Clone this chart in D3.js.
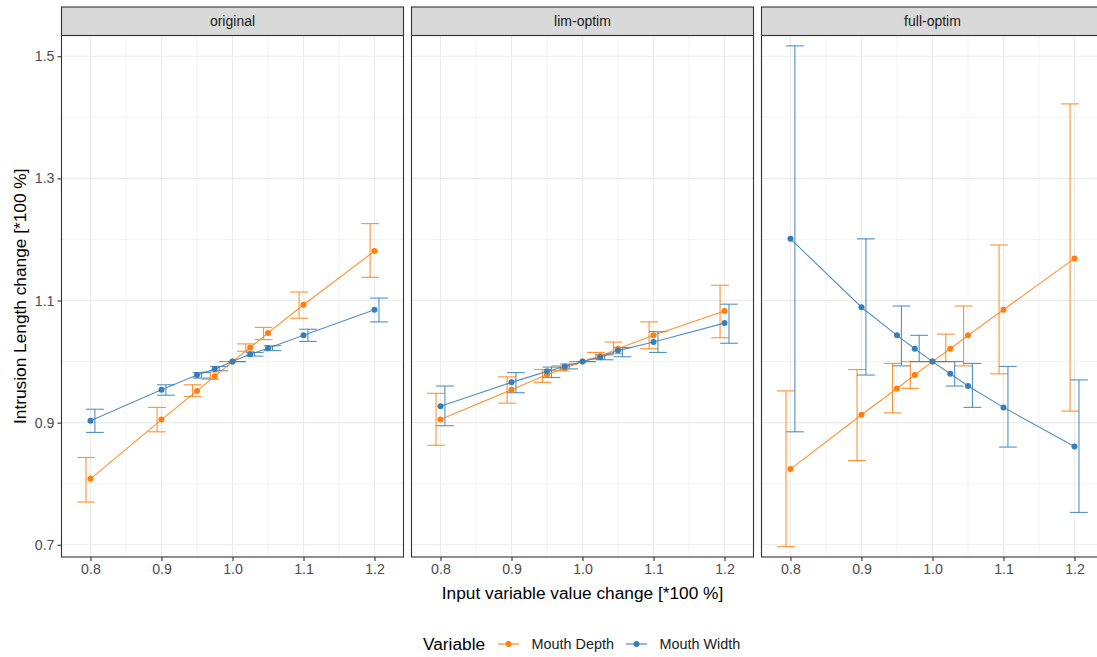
<!DOCTYPE html>
<html>
<head>
<meta charset="utf-8">
<script src="https://cdn.jsdelivr.net/npm/d3@7"></script>
<style>
  body { margin: 0; background: #fff; }
  svg text { font-family: "Liberation Sans", Arial, sans-serif; }
</style>
</head>
<body>
<svg id="chart" width="1097" height="657"></svg>
<script>
// ---- data ----
var xSteps = [0.8, 0.9, 0.95, 0.975, 1.0, 1.025, 1.05, 1.1, 1.2];
var panels = ["original", "lim-optim", "full-optim"];
var variables = ["Mouth Depth", "Mouth Width"];
var xTicks = [0.8, 0.9, 1.0, 1.1, 1.2];
var yTicks = [0.7, 0.9, 1.1, 1.3, 1.5];

// original
var origDepth   = [0.808, 0.905, 0.952, 0.976, 1.0, 1.023, 1.047, 1.093, 1.181];
var origDepthLo = [0.770, 0.885, 0.943, 0.971, 1.0, 1.017, 1.036, 1.071, 1.138];
var origDepthHi = [0.843, 0.925, 0.962, 0.983, 1.0, 1.029, 1.056, 1.114, 1.226];
var origWidth   = [0.903, 0.954, 0.978, 0.988, 1.0, 1.012, 1.022, 1.043, 1.085];
var origWidthLo = [0.884, 0.945, 0.973, 0.985, 1.0, 1.009, 1.018, 1.033, 1.065];
var origWidthHi = [0.922, 0.962, 0.982, 0.992, 1.0, 1.015, 1.026, 1.053, 1.104];

// lim-optim
var limDepth   = [0.905, 0.954, 0.979, 0.989, 1.0, 1.009, 1.021, 1.043, 1.083];
var limDepthLo = [0.863, 0.932, 0.966, 0.985, 1.0, 1.004, 1.013, 1.021, 1.039];
var limDepthHi = [0.948, 0.975, 0.987, 0.993, 1.0, 1.015, 1.032, 1.065, 1.125];
var limWidth   = [0.927, 0.966, 0.984, 0.992, 1.0, 1.007, 1.018, 1.032, 1.063];
var limWidthLo = [0.895, 0.949, 0.974, 0.988, 1.0, 1.003, 1.008, 1.015, 1.030];
var limWidthHi = [0.960, 0.982, 0.991, 0.996, 1.0, 1.011, 1.023, 1.049, 1.094];

// full-optim
var fullDepth   = [0.824, 0.913, 0.956, 0.978, 1.0, 1.021, 1.043, 1.085, 1.169];
var fullDepthLo = [0.697, 0.838, 0.916, 0.956, 1.0, 1.000, 0.993, 0.980, 0.919];
var fullDepthHi = [0.952, 0.987, 0.997, 1.000, 1.0, 1.045, 1.091, 1.191, 1.422];
var fullWidth   = [1.201, 1.089, 1.043, 1.021, 1.0, 0.980, 0.960, 0.925, 0.861];
var fullWidthLo = [0.885, 0.978, 0.993, 1.000, 1.0, 0.960, 0.925, 0.860, 0.753];
var fullWidthHi = [1.517, 1.201, 1.091, 1.043, 1.0, 1.000, 0.997, 0.992, 0.970];

var colors = ["#ff7f0e", "#377eb8"];

var panelData = [
  [[origDepth, origDepthLo, origDepthHi], [origWidth, origWidthLo, origWidthHi]],
  [[limDepth, limDepthLo, limDepthHi], [limWidth, limWidthLo, limWidthHi]],
  [[fullDepth, fullDepthLo, fullDepthHi], [fullWidth, fullWidthLo, fullWidthHi]]
];

// ---- layout ----
var panelLeft = 61.5, panelW = 342, panelGap = 8,
    stripTop = 7, stripH = 28.5,
    panelTop = 35.5, panelBottom = 557;

var x = d3.scaleLinear().domain([0.7592, 1.2408]).range([0, panelW]);
var y = d3.scaleLinear().domain([0.68, 1.534]).range([panelBottom, panelTop]);

var dodge = 0.00625, capHalf = 0.0125;
var fmt = d3.format(".1f");

var svg = d3.select("#chart");

panels.forEach(function(name, p) {
  var g = svg.append("g")
    .attr("transform", "translate(" + (panelLeft + p * (panelW + panelGap)) + ",0)");

  // minor grid
  var xMinor = [0.85, 0.95, 1.05, 1.15];
  var yMinor = [0.8, 1.0, 1.2, 1.4];
  g.selectAll(".xminor").data(xMinor).enter().append("line")
    .attr("x1", function(d) { return x(d); }).attr("x2", function(d) { return x(d); })
    .attr("y1", panelTop).attr("y2", panelBottom)
    .attr("stroke", "#ebebeb").attr("stroke-width", 0.6);
  g.selectAll(".yminor").data(yMinor).enter().append("line")
    .attr("x1", 0).attr("x2", panelW)
    .attr("y1", function(d) { return y(d); }).attr("y2", function(d) { return y(d); })
    .attr("stroke", "#ebebeb").attr("stroke-width", 0.6);
  // major grid
  g.selectAll(".xmajor").data(xTicks).enter().append("line")
    .attr("x1", function(d) { return x(d); }).attr("x2", function(d) { return x(d); })
    .attr("y1", panelTop).attr("y2", panelBottom)
    .attr("stroke", "#ebebeb").attr("stroke-width", 1.1);
  g.selectAll(".ymajor").data(yTicks).enter().append("line")
    .attr("x1", 0).attr("x2", panelW)
    .attr("y1", function(d) { return y(d); }).attr("y2", function(d) { return y(d); })
    .attr("stroke", "#ebebeb").attr("stroke-width", 1.1);

  var series = panelData[p];

  // error bars (dodged)
  series.forEach(function(s, si) {
    var off = si === 0 ? -dodge : dodge;
    var pts = xSteps.map(function(v, i) { return { x: v + off, lo: s[1][i], hi: s[2][i] }; });
    var eb = g.append("g").attr("stroke", colors[si]).attr("stroke-width", 1.1)
      .attr("stroke-opacity", 0.85).attr("fill", "none");
    eb.selectAll(".v").data(pts).enter().append("line")
      .attr("x1", function(d) { return x(d.x); }).attr("x2", function(d) { return x(d.x); })
      .attr("y1", function(d) { return y(d.lo); }).attr("y2", function(d) { return y(d.hi); });
    eb.selectAll(".lo").data(pts).enter().append("line")
      .attr("x1", function(d) { return x(d.x - capHalf); }).attr("x2", function(d) { return x(d.x + capHalf); })
      .attr("y1", function(d) { return y(d.lo); }).attr("y2", function(d) { return y(d.lo); });
    eb.selectAll(".hi").data(pts).enter().append("line")
      .attr("x1", function(d) { return x(d.x - capHalf); }).attr("x2", function(d) { return x(d.x + capHalf); })
      .attr("y1", function(d) { return y(d.hi); }).attr("y2", function(d) { return y(d.hi); });
  });

  // lines and points
  series.forEach(function(s, si) {
    var line = d3.line()
      .x(function(d, i) { return x(xSteps[i]); })
      .y(function(d) { return y(d); });
    g.append("path").datum(s[0])
      .attr("d", line)
      .attr("fill", "none")
      .attr("stroke", colors[si])
      .attr("stroke-opacity", 0.85)
      .attr("stroke-width", 1.1);
    g.selectAll(".pt" + si).data(s[0]).enter().append("circle")
      .attr("cx", function(d, i) { return x(xSteps[i]); })
      .attr("cy", function(d) { return y(d); })
      .attr("r", 3)
      .attr("fill", colors[si]);
  });

  // panel border
  g.append("rect")
    .attr("x", 0).attr("y", panelTop)
    .attr("width", panelW).attr("height", panelBottom - panelTop)
    .attr("fill", "none").attr("stroke", "#333333").attr("stroke-width", 1.1);

  // strip
  g.append("rect")
    .attr("x", 0).attr("y", stripTop)
    .attr("width", panelW).attr("height", stripH)
    .attr("fill", "#d9d9d9").attr("stroke", "#333333").attr("stroke-width", 1.1);
  g.append("text")
    .attr("x", panelW / 2).attr("y", stripTop + stripH / 2)
    .attr("dy", "0.35em")
    .attr("text-anchor", "middle")
    .attr("fill", "#1a1a1a")
    .style("font-size", "14px")
    .text(name);

  // x axis
  var xAxis = g.append("g")
    .attr("transform", "translate(0," + panelBottom + ")")
    .call(d3.axisBottom(x).tickValues(xTicks).tickFormat(fmt).tickSize(4).tickPadding(3));
  xAxis.select(".domain").remove();
  xAxis.selectAll("line").attr("stroke", "#333333").attr("stroke-width", 1.1);
  xAxis.selectAll("text").attr("fill", "#4d4d4d").style("font-size", "14.2px");

  if (p === 0) {
    var yAxis = g.append("g")
      .call(d3.axisLeft(y).tickValues(yTicks).tickFormat(fmt).tickSize(4).tickPadding(3));
    yAxis.select(".domain").remove();
    yAxis.selectAll("line").attr("stroke", "#333333").attr("stroke-width", 1.1);
    yAxis.selectAll("text").attr("fill", "#4d4d4d").style("font-size", "14.2px");
  }
});

// axis titles
svg.append("text")
  .attr("x", panelLeft + (3 * panelW + 2 * panelGap) / 2)
  .attr("y", 599)
  .attr("text-anchor", "middle")
  .style("font-size", "17.3px")
  .attr("fill", "#000")
  .text("Input variable value change [*100 %]");

svg.append("text")
  .attr("transform", "translate(26," + ((panelTop + panelBottom) / 2) + ") rotate(-90)")
  .attr("text-anchor", "middle")
  .style("font-size", "17.3px")
  .attr("fill", "#000")
  .text("Intrusion Length change [*100 %]");

// legend
var legend = svg.append("g").attr("transform", "translate(0,644)");
legend.append("text")
  .attr("x", 423).attr("y", 0).attr("dy", "0.35em")
  .style("font-size", "17.3px").attr("fill", "#000")
  .text("Variable");

var keyX = [498, 626];
variables.forEach(function(v, i) {
  var k = legend.append("g").attr("transform", "translate(" + keyX[i] + ",0)");
  k.append("line").attr("x1", 0).attr("x2", 21).attr("y1", 0).attr("y2", 0)
    .attr("stroke", colors[i]).attr("stroke-width", 1.1);
  k.append("circle").attr("cx", 10.5).attr("cy", 0).attr("r", 3).attr("fill", colors[i]);
  k.append("text").attr("x", 33.5).attr("y", 0).attr("dy", "0.35em")
    .style("font-size", "14.4px").attr("fill", "#1a1a1a")
    .text(v);
});
</script>
</body>
</html>
